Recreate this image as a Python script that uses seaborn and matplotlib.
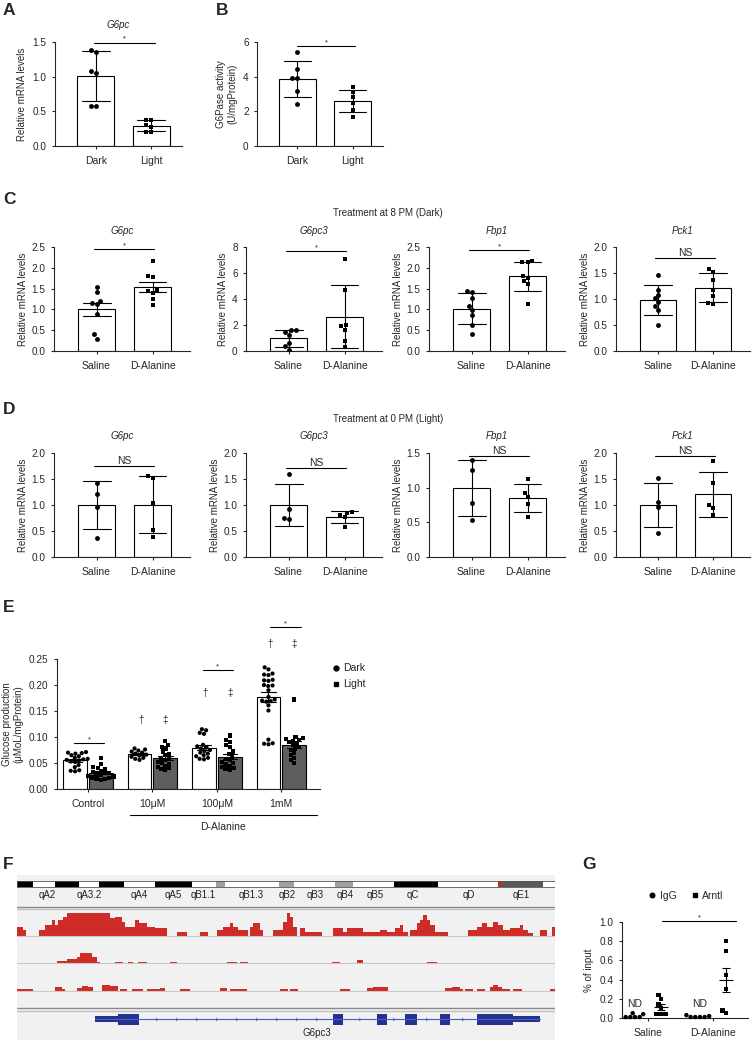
import numpy as np
import pandas as pd
import matplotlib
matplotlib.use('Agg')
import matplotlib.pyplot as plt
import seaborn as sns
from matplotlib.lines import Line2D
from matplotlib.ticker import FormatStrFormatter

# ---------------- data ----------------
# A: G6pc mRNA, dark vs light
a_groups = ['Dark', 'Light']
a_dark = [1.38, 1.36, 1.08, 1.06, 0.58, 0.57]
a_light = [0.38, 0.38, 0.30, 0.28, 0.20, 0.20]
# B: G6Pase activity
b_dark = [5.4, 4.45, 3.95, 3.9, 3.2, 2.4]
b_light = [3.4, 3.1, 2.8, 2.5, 2.1, 1.7]

treat = ['Saline', 'D-Alanine']
genes = ['G6pc', 'G6pc3', 'Fbp1', 'Pck1']
# C: treatment at 8 PM (dark)
c_g6pc_sal = [1.55, 1.42, 1.20, 1.15, 1.12, 0.88, 0.40, 0.30]
c_g6pc_dala = [2.17, 1.80, 1.77, 1.46, 1.44, 1.40, 1.25, 1.10]
c_g6pc3_sal = [1.62, 1.58, 1.50, 1.25, 0.60, 0.35, 0.05]
c_g6pc3_dala = [7.1, 4.7, 2.0, 1.9, 1.6, 0.8, 0.3]
c_fbp1_sal = [1.45, 1.43, 1.28, 1.08, 0.98, 0.86, 0.62, 0.42]
c_fbp1_dala = [2.16, 2.15, 2.13, 1.80, 1.75, 1.68, 1.60, 1.14]
c_pck1_sal = [1.47, 1.18, 1.08, 1.02, 0.95, 0.86, 0.79, 0.50]
c_pck1_dala = [1.57, 1.52, 1.37, 1.18, 1.06, 0.92, 0.91]
# D: treatment at 0 PM (light)
d_g6pc_sal = [1.43, 1.22, 0.96, 0.37]
d_g6pc_dala = [1.56, 1.52, 1.03, 0.52, 0.39]
d_g6pc3_sal = [1.60, 0.92, 0.75, 0.73]
d_g6pc3_dala = [0.87, 0.84, 0.80, 0.76, 0.58]
d_fbp1_sal = [1.40, 1.26, 0.78, 0.54]
d_fbp1_dala = [1.12, 0.93, 0.87, 0.76, 0.58]
d_pck1_sal = [1.51, 1.06, 0.96, 0.47]
d_pck1_dala = [1.84, 1.42, 1.00, 0.95, 0.80]

# E: glucose production
e_doses = ['Control', '10μM', '100μM', '1mM']
e_dark_control = [0.071, 0.070, 0.069, 0.068, 0.065, 0.063, 0.060, 0.058, 0.057,
                  0.056, 0.055, 0.053, 0.052, 0.046, 0.042, 0.036, 0.035, 0.034]
e_light_control = [0.060, 0.048, 0.042, 0.041, 0.038, 0.035, 0.033, 0.031, 0.030,
                   0.028, 0.027, 0.025, 0.024, 0.022, 0.021, 0.020, 0.019, 0.018]
e_dark_10um = [0.078, 0.074, 0.076, 0.072, 0.070, 0.068, 0.066, 0.064, 0.062,
               0.060, 0.058, 0.056]
e_light_10um = [0.093, 0.085, 0.080, 0.078, 0.072, 0.068, 0.065, 0.060, 0.058,
                0.055, 0.052, 0.050, 0.048, 0.045, 0.043, 0.040, 0.038, 0.036]
e_dark_100um = [0.115, 0.113, 0.108, 0.106, 0.085, 0.082, 0.080, 0.078, 0.075,
                0.073, 0.070, 0.068, 0.065, 0.063, 0.060, 0.058, 0.057]
e_light_100um = [0.103, 0.095, 0.090, 0.085, 0.080, 0.072, 0.068, 0.062, 0.058,
                 0.055, 0.052, 0.050, 0.047, 0.045, 0.042, 0.040, 0.038, 0.036]
e_dark_1mm = [0.234, 0.230, 0.222, 0.220, 0.219, 0.210, 0.209, 0.208, 0.200, 0.199,
              0.198, 0.190, 0.177, 0.172, 0.170, 0.169, 0.168, 0.161, 0.151,
              0.095, 0.088, 0.087, 0.086]
e_light_1mm = [0.172, 0.100, 0.098, 0.096, 0.095, 0.093, 0.090, 0.088, 0.085,
               0.080, 0.078, 0.075, 0.070, 0.065, 0.060, 0.055, 0.050]
e_dagger_y = [None, 0.133, 0.185, 0.279]

# F: genome browser (x in track units)
band_edges = [0, 16, 38, 62, 82, 107, 138, 175, 199, 208, 262, 277, 318, 336,
              377, 421, 481, 484, 526, 538]
band_colors = ['black', 'white', 'black', 'white', 'black', 'white', 'black', 'white',
               '#a0a0a0', 'white', '#a0a0a0', 'white', '#a0a0a0', 'white', 'black',
               'white', '#d62020', '#595959', 'white']
band_labels = ['qA2', 'qA3.2', 'qA4', 'qA5', 'qB1.1', 'qB1.3', 'qB2', 'qB3', 'qB4',
               'qB5', 'qC', 'qD', 'qE1']
band_label_pos = [30, 72, 122, 156, 186, 234, 270, 298, 328, 358, 396, 452, 504]

trk1_start = [0, 6, 22, 28, 35, 38, 41, 46, 50, 93, 98, 105, 108, 118, 122, 130, 138,
              160, 183, 200, 206, 213, 216, 221, 233, 236, 243, 256, 266, 270, 273,
              276, 283, 288, 316, 326, 330, 346, 350, 363, 370, 378, 383, 386, 393,
              400, 403, 406, 410, 413, 418, 451, 460, 465, 470, 476, 481, 486, 493,
              503, 506, 511, 523, 535]
trk1_end = [6, 9, 28, 35, 38, 41, 46, 50, 93, 98, 105, 108, 118, 122, 130, 138, 150,
            170, 191, 206, 213, 216, 221, 231, 236, 243, 246, 266, 270, 273, 276,
            280, 288, 305, 326, 330, 346, 350, 363, 370, 378, 383, 386, 391, 400,
            403, 406, 410, 413, 418, 431, 460, 465, 470, 476, 481, 486, 493, 503,
            506, 511, 516, 530, 538]
trk1_cov = [28, 18, 18, 33, 48, 33, 48, 58, 68, 53, 58, 43, 28, 48, 38, 28, 23,
            13, 13, 18, 28, 38, 28, 18, 28, 38, 18, 18, 43, 68, 58, 28, 23, 13,
            23, 13, 23, 13, 13, 18, 13, 23, 33, 13, 18, 38, 48, 63, 48, 33, 13,
            18, 28, 38, 28, 43, 33, 18, 23, 33, 18, 8, 18, 28]
trk2_start = [40, 50, 60, 63, 70, 75, 80, 98, 111, 121, 153, 210, 223, 315, 340, 410]
trk2_end = [50, 60, 63, 70, 75, 80, 83, 106, 116, 130, 160, 220, 231, 323, 346, 420]
trk2_cov = [8, 12, 20, 30, 32, 20, 5, 5, 5, 5, 5, 5, 5, 5, 10, 4]
trk3_start = [0, 38, 45, 60, 65, 71, 85, 93, 103, 115, 130, 143, 163, 203, 213, 263,
              273, 323, 350, 356, 363, 428, 435, 443, 448, 460, 473, 476, 481, 485,
              496, 533]
trk3_end = [16, 45, 48, 65, 71, 76, 93, 101, 110, 126, 143, 148, 173, 210, 230, 271,
            281, 333, 356, 363, 371, 435, 443, 446, 456, 468, 476, 481, 485, 493,
            505, 538]
trk3_cov = [4, 10, 4, 7, 14, 10, 17, 14, 4, 4, 4, 9, 4, 9, 4, 4, 4, 4, 7, 12, 10,
            7, 10, 4, 4, 4, 10, 16, 10, 4, 4, 4]

exon_start = [101, 316, 360, 388, 423, 460]
exon_end = [122, 326, 370, 400, 433, 496]
utr_start = [78, 496]
utr_end = [101, 523]
# strand arrows along the introns
intron_marks = [140, 160, 180, 200, 220, 240, 260, 280, 300, 343, 377, 410, 446]

# G: ChIP
g_groups = ['Saline', 'D-Alanine']
g_igg_sal = [0.05, 0.04, 0.01, 0.01, 0.01, 0.01]
g_igg_dala = [0.03, 0.02, 0.01, 0.01, 0.01, 0.01]
g_arntl_sal = [0.24, 0.20, 0.14, 0.10, 0.04, 0.04, 0.04]
g_arntl_dala = [0.80, 0.70, 0.45, 0.30, 0.08, 0.05]

# ---------------- style ----------------
sns.set_theme(style='ticks')
plt.rcParams['font.family'] = ['Liberation Sans', 'DejaVu Sans']
plt.rcParams['axes.linewidth'] = 0.8
plt.rcParams['xtick.major.width'] = 0.8
plt.rcParams['ytick.major.width'] = 0.8
plt.rcParams['xtick.major.size'] = 2.5
plt.rcParams['ytick.major.size'] = 2.5
plt.rcParams['xtick.labelsize'] = 7.5
plt.rcParams['ytick.labelsize'] = 7.2
plt.rcParams['axes.labelsize'] = 7
plt.rcParams['xtick.major.pad'] = 5

W, H = 753, 1040
fig = plt.figure(figsize=(W / 100, H / 100), dpi=100)


def add_ax(l, t, r, b):
    return fig.add_axes([l / W, 1 - b / H, (r - l) / W, (b - t) / H])


def sig(ax, x0, x1, y, text, fs=5.5):
    ax.plot([x0, x1], [y, y], color='black', lw=0.8, clip_on=False)
    ax.text((x0 + x1) / 2, y, text, ha='center', va='bottom', fontsize=fs)


def bar_panel(ax, groups, first, second, err, ylim, yticks, fmt, xlim):
    df = pd.DataFrame({'group': [groups[0]] * len(first) + [groups[1]] * len(second),
                       'value': first + second})
    sns.barplot(data=df, x='group', y='value', order=groups, errorbar=err,
                capsize=0.5, width=0.66, color='white', edgecolor='black',
                linewidth=0.8, err_kws={'color': 'black', 'linewidth': 0.8}, ax=ax)
    for g, m in zip(groups, ['o', 's']):
        sns.swarmplot(data=df[df.group == g], x='group', y='value', order=groups,
                      marker=m, color='black', size=3.5, ax=ax)
    ax.set_ylim(*ylim)
    ax.set_yticks(yticks)
    ax.yaxis.set_major_formatter(FormatStrFormatter(fmt))
    ax.set_xlim(*xlim)
    ax.set_xlabel('')
    sns.despine(ax=ax)


# ---------------- A ----------------
ax = add_ax(55, 42, 182, 146)
bar_panel(ax, a_groups, a_dark, a_light, 'sd', (0, 1.5), [0, 0.5, 1.0, 1.5], '%.1f',
          (-0.73, 1.55))
ax.set_ylabel('Relative mRNA levels')
ax.set_title('G6pc', style='italic', fontsize=7, pad=10)
sig(ax, -0.03, 1.07, 1.49, '*')

# ---------------- B ----------------
ax = add_ax(257, 42, 383, 146)
bar_panel(ax, a_groups, b_dark, b_light, 'sd', (0, 6), [0, 2, 4, 6], '%d',
          (-0.73, 1.55))
ax.set_ylabel('G6Pase activity\n(U/mgProtein)')
sig(ax, 0.0, 1.05, 5.75, '*')

# ---------------- C & D ----------------
c_data = [(c_g6pc_sal, c_g6pc_dala), (c_g6pc3_sal, c_g6pc3_dala),
          (c_fbp1_sal, c_fbp1_dala), (c_pck1_sal, c_pck1_dala)]
d_data = [(d_g6pc_sal, d_g6pc_dala), (d_g6pc3_sal, d_g6pc3_dala),
          (d_fbp1_sal, d_fbp1_dala), (d_pck1_sal, d_pck1_dala)]
c_err = ['se', 'sd', 'sd', 'sd']
c_ylim = [(0, 2.5), (0, 8), (0, 2.5), (0, 2.0)]
c_ticks = [[0, 0.5, 1.0, 1.5, 2.0, 2.5], [0, 2, 4, 6, 8], [0, 0.5, 1.0, 1.5, 2.0, 2.5],
           [0, 0.5, 1.0, 1.5, 2.0]]
c_fmt = ['%.1f', '%d', '%.1f', '%.1f']
c_sig = [(2.45, '*'), (7.7, '*'), (2.42, '*'), (1.79, 'NS')]
d_ylim = [(0, 2.0), (0, 2.0), (0, 1.5), (0, 2.0)]
d_ticks = [[0, 0.5, 1.0, 1.5, 2.0], [0, 0.5, 1.0, 1.5, 2.0], [0, 0.5, 1.0, 1.5],
           [0, 0.5, 1.0, 1.5, 2.0]]
d_sig = [1.75, 1.72, 1.46, 1.95]
col_l = [54, 246, 429, 616]
col_r = [190, 382, 565, 750]

for i in range(4):
    ax = add_ax(col_l[i], 247, col_r[i], 351)
    bar_panel(ax, treat, list(c_data[i][0]), list(c_data[i][1]), c_err[i], c_ylim[i],
              c_ticks[i], c_fmt[i], (-0.76, 1.67))
    ax.set_ylabel('Relative mRNA levels', labelpad=3)
    ax.set_title(genes[i], style='italic', fontsize=7, pad=9)
    y, t = c_sig[i]
    sig(ax, -0.05, 1.03, y, t, 5.5 if t == '*' else 7.5)

    ax = add_ax(col_l[i], 453, col_r[i], 557)
    bar_panel(ax, treat, list(d_data[i][0]), list(d_data[i][1]), 'sd', d_ylim[i],
              d_ticks[i], '%.1f', (-0.76, 1.67))
    ax.set_ylabel('Relative mRNA levels', labelpad=3)
    ax.set_title(genes[i], style='italic', fontsize=7, pad=10)
    sig(ax, -0.05, 1.03, d_sig[i], 'NS', 7.5)

fig.text(388 / W, 1 - 213 / H, 'Treatment at 8 PM (Dark)', ha='center', va='center',
         fontsize=7)
fig.text(388 / W, 1 - 419 / H, 'Treatment at 0 PM (Light)', ha='center', va='center',
         fontsize=7)

# ---------------- E ----------------
e_dark = [e_dark_control, e_dark_10um, e_dark_100um, e_dark_1mm]
e_light = [e_light_control, e_light_10um, e_light_100um, e_light_1mm]
rows = []
for dose, dk, lt in zip(e_doses, e_dark, e_light):
    rows += [(dose, 'Dark', v) for v in dk]
    rows += [(dose, 'Light', v) for v in lt]
df_e = pd.DataFrame(rows, columns=['dose', 'cycle', 'value'])

ax = add_ax(57, 659, 320, 789)
sns.barplot(data=df_e, x='dose', y='value', hue='cycle', order=e_doses,
            hue_order=['Dark', 'Light'], palette=['white', '#5e5e5e'], saturation=1,
            edgecolor='black', linewidth=0.8, errorbar='se', capsize=0.45, width=0.8,
            gap=0.08, err_kws={'color': 'black', 'linewidth': 0.8}, legend=False, ax=ax)
for cyc, m in zip(['Dark', 'Light'], ['o', 's']):
    sns.swarmplot(data=df_e[df_e.cycle == cyc], x='dose', y='value', hue='cycle',
                  order=e_doses, hue_order=['Dark', 'Light'], dodge=True, marker=m,
                  palette={'Dark': 'black', 'Light': 'black'}, size=3.0, legend=False,
                  ax=ax)
ax.set_ylim(0, 0.25)
ax.set_yticks([0, 0.05, 0.10, 0.15, 0.20, 0.25])
ax.yaxis.set_major_formatter(FormatStrFormatter('%.2f'))
ax.set_xlim(-0.48, 3.6)
ax.set_xlabel('')
ax.set_ylabel('Glucose production\n(μMoL/mgProtein)')
sns.despine(ax=ax)
sig(ax, -0.22, 0.25, 0.0885, '*')
sig(ax, 1.78, 2.25, 0.229, '*')
sig(ax, 2.83, 3.3, 0.3115, '*')
for i, yv in enumerate(e_dagger_y):
    if yv is None:
        continue
    ax.text(i - 0.18, yv, '†', ha='center', va='center', fontsize=7, clip_on=False)
    ax.text(i + 0.2, yv, '‡', ha='center', va='center', fontsize=7, clip_on=False)
ax.plot([0.66, 3.55], [-0.2, -0.2], color='black', lw=0.8,
        transform=ax.get_xaxis_transform(), clip_on=False)
ax.text(2.1, -0.29, 'D-Alanine', ha='center', va='center', fontsize=7.5,
        transform=ax.get_xaxis_transform())
handles = [Line2D([], [], marker='o', ls='none', color='black', ms=3.5),
           Line2D([], [], marker='s', ls='none', color='black', ms=3.3)]
ax.legend(handles, ['Dark', 'Light'], loc='upper left', bbox_to_anchor=(1.0, 1.04),
          frameon=False, fontsize=7.5, handletextpad=0.1, handlelength=1.2,
          labelspacing=0.6)

# ---------------- F ----------------
ax = add_ax(17, 875, 555, 1040)
ax.set_facecolor('#f1f1f1')
ax.set_xlim(0, 538)
ax.set_ylim(0, 165)
for s in ax.spines.values():
    s.set_visible(False)
ax.set_xticks([])
ax.set_yticks([])
ax.bar(band_edges[:-1], 6, width=np.diff(band_edges), bottom=153, align='edge',
       color=band_colors, linewidth=0)
ax.plot([0, 538, 538, 0, 0], [153, 153, 159, 159, 153], color='#555555', lw=0.6)
for lab, xp in zip(band_labels, band_label_pos):
    ax.text(xp, 145, lab, ha='center', va='center', fontsize=7, color='#222222')
for yy, cc in [(133.3, '#8a8a8a'), (130.7, '#c0c0c0'), (31.7, '#8a8a8a'),
               (29.3, '#c0c0c0')]:
    ax.axhline(yy, color=cc, lw=1.0)
for base, st, en, cov in [(104, trk1_start, trk1_end, trk1_cov),
                          (76.7, trk2_start, trk2_end, trk2_cov),
                          (49.3, trk3_start, trk3_end, trk3_cov)]:
    ax.axhline(base, color='#c8c8c8', lw=0.8)
    ax.bar(st, np.array(cov) / 3, width=np.array(en) - np.array(st), bottom=base,
           align='edge', color='#cf2b27', linewidth=0)
ax.plot([utr_start[0], utr_end[-1]], [20.7, 20.7], color='#4b5cc4', lw=0.8)
ax.plot(intron_marks, [20.7] * len(intron_marks), ls='none', marker='4', ms=3,
        mew=0.6, color='#4b5cc4')
ax.bar(exon_start, 11, width=np.array(exon_end) - np.array(exon_start), bottom=15.2,
       align='edge', color='#26308e', linewidth=0)
ax.bar(utr_start, 6, width=np.array(utr_end) - np.array(utr_start), bottom=17.7,
       align='edge', color='#26308e', linewidth=0)
ax.text(300, 7.3, 'G6pc3', ha='center', va='center', fontsize=7, color='#222222')

# ---------------- G ----------------
rows = []
for grp, igg, arn in zip(g_groups, [g_igg_sal, g_igg_dala], [g_arntl_sal, g_arntl_dala]):
    rows += [(grp, 'IgG', v) for v in igg]
    rows += [(grp, 'Arntl', v) for v in arn]
df_g = pd.DataFrame(rows, columns=['cond', 'ab', 'value'])

ax = add_ax(622, 922, 748, 1018)
for ab, m in zip(['IgG', 'Arntl'], ['o', 's']):
    sns.swarmplot(data=df_g[df_g.ab == ab], x='cond', y='value', hue='ab',
                  order=g_groups, hue_order=['IgG', 'Arntl'], dodge=True, marker=m,
                  palette={'IgG': 'black', 'Arntl': 'black'}, size=3.2, legend=False,
                  ax=ax)
for c in ax.collections:
    c.set_clip_on(False)
arn_vals = [np.array(g_arntl_sal), np.array(g_arntl_dala)]
means = [v.mean() for v in arn_vals]
sems = [v.std(ddof=1) / np.sqrt(len(v)) for v in arn_vals]
ax.errorbar(np.arange(len(g_groups)) + 0.2, means, yerr=sems, fmt='_', color='black',
            ms=10, mew=0.8, elinewidth=0.8, capsize=3, capthick=0.8)
ax.set_ylim(0, 1.0)
ax.set_yticks([0, 0.2, 0.4, 0.6, 0.8, 1.0])
ax.yaxis.set_major_formatter(FormatStrFormatter('%.1f'))
ax.set_xlim(-0.4, 1.54)
ax.set_xlabel('')
ax.set_ylabel('% of input')
sns.despine(ax=ax)
sig(ax, 0.22, 1.36, 1.01, '*')
for i in range(len(g_groups)):
    ax.text(i - 0.2, 0.09, 'ND', ha='center', va='bottom', fontsize=7.5)
handles = [Line2D([], [], marker='o', ls='none', color='black', ms=3.3),
           Line2D([], [], marker='s', ls='none', color='black', ms=3.1)]
ax.legend(handles, ['IgG', 'Arntl'], loc='center', bbox_to_anchor=(0.5, 1.27), ncol=2,
          frameon=False, fontsize=7.5, handletextpad=0.1, handlelength=1.2,
          columnspacing=1.2)

# ---------------- panel letters ----------------
for lab, x, y in [('A', 3, 3), ('B', 216, 3), ('C', 3, 192), ('D', 3, 402),
                  ('E', 3, 600), ('F', 3, 857), ('G', 582, 857)]:
    fig.text(x / W, 1 - y / H, lab, fontsize=12.5, fontweight='bold', ha='left',
             va='top')

fig.savefig('out.png', dpi=100)
